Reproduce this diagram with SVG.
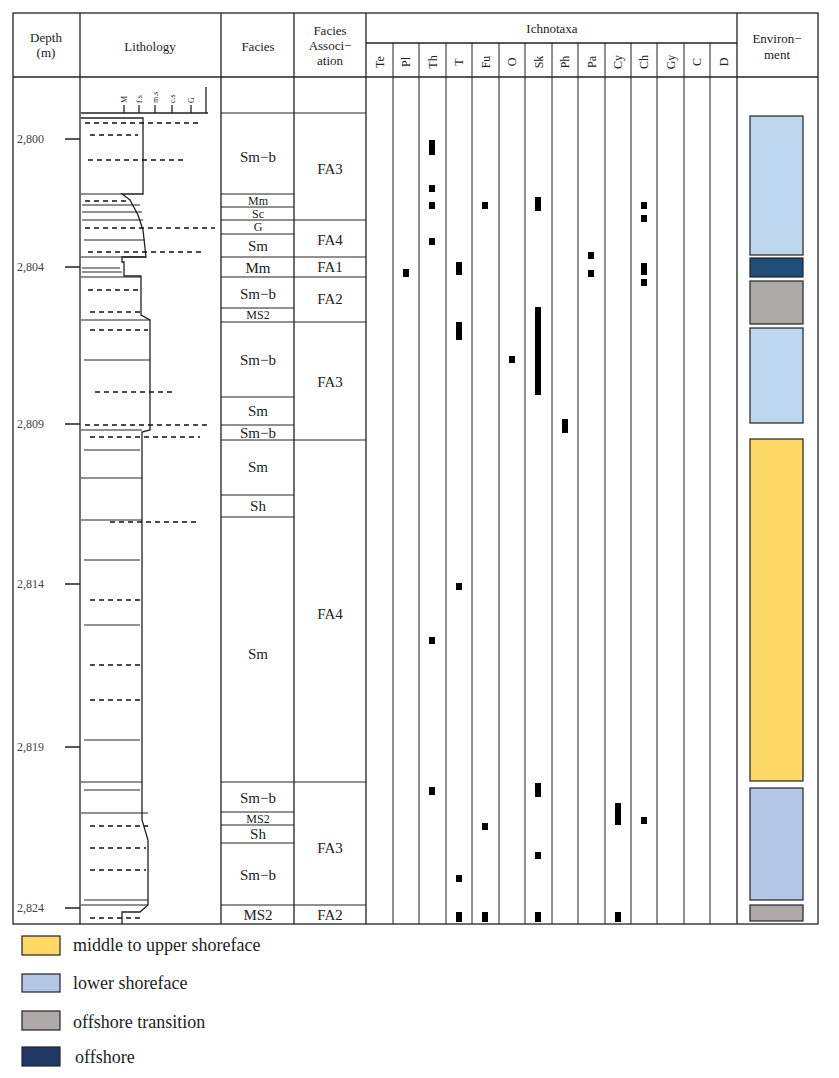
<svg xmlns="http://www.w3.org/2000/svg" width="839" height="1078" viewBox="0 0 839 1078">
<style>
text{font-family:"Liberation Serif","DejaVu Serif",serif;fill:#222}
.h{font-size:13px;text-anchor:middle}
.f{font-size:15px;text-anchor:middle;fill:#444}
.s{font-size:12px}
.d{font-size:12px;fill:#444}
.v{font-size:12px;text-anchor:middle}
.g{stroke:#222;stroke-width:1.3;fill:none}
.t{stroke:#222;stroke-width:1;fill:none}
.m{fill:#000}
.e{stroke:#222;stroke-width:1.2}
.l{font-size:18px}
.ds{stroke:#111;stroke-width:1.5;stroke-dasharray:5 4;fill:none}
</style>
<rect width="839" height="1078" fill="#fff"/>
<g id="table">
<rect x="13" y="13" width="805" height="911" class="g"/>
<line x1="13" y1="77" x2="818" y2="77" class="g"/>
<line x1="366" y1="43" x2="737" y2="43" class="g"/>
<path class="g" d="M80 13V924M221 13V924M294 13V924M366 13V924M737 13V924"/>
<path class="t" d="M393 43V924M419 43V924M446 43V924M472 43V924M499 43V924M525 43V924M552 43V924M578 43V924M605 43V924M631 43V924M657 43V924M684 43V924M710 43V924"/>
<text class="h" x="46" y="42">Depth</text><text class="h" x="46" y="57">(m)</text>
<text class="h" x="150" y="51">Lithology</text>
<text class="h" x="258" y="51">Facies</text>
<text class="h" x="330" y="35">Facies</text><text class="h" x="330" y="50">Associ−</text><text class="h" x="330" y="65">ation</text>
<text class="h" x="552" y="33">Ichnotaxa</text>
<text class="h" x="777" y="43">Environ−</text><text class="h" x="777" y="59">ment</text>
<g class="v">
<text transform="translate(384,62) rotate(-90)">Te</text>
<text transform="translate(410,62) rotate(-90)">Pl</text>
<text transform="translate(437,62) rotate(-90)">Th</text>
<text transform="translate(463,62) rotate(-90)">T</text>
<text transform="translate(490,62) rotate(-90)">Fu</text>
<text transform="translate(516,62) rotate(-90)">O</text>
<text transform="translate(543,62) rotate(-90)">Sk</text>
<text transform="translate(569,62) rotate(-90)">Ph</text>
<text transform="translate(596,62) rotate(-90)">Pa</text>
<text transform="translate(622,62) rotate(-90)">Cy</text>
<text transform="translate(648,62) rotate(-90)">Ch</text>
<text transform="translate(675,62) rotate(-90)">Gy</text>
<text transform="translate(701,62) rotate(-90)">C</text>
<text transform="translate(728,62) rotate(-90)">D</text>
</g>
</g>
<g id="depth">
<path class="g" d="M65 139H80M65 267H80M65 424H80M65 584H80M65 747H80M65 908H80"/>
<text class="d" x="17" y="143">2,800</text>
<text class="d" x="17" y="271">2,804</text>
<text class="d" x="17" y="428">2,809</text>
<text class="d" x="17" y="588">2,814</text>
<text class="d" x="17" y="751">2,819</text>
<text class="d" x="17" y="912">2,824</text>
</g>
<g id="lithology">
<path class="g" d="M81 113H208M206 87V113M124 113V105M139 113V105M155 113V105M172 113V105M191 113V105"/>
<g style="font-size:8px;font-family:'Liberation Sans',sans-serif">
<text transform="translate(127,103) rotate(-90)">M</text>
<text transform="translate(142,103) rotate(-90)">f.s</text>
<text transform="translate(158,103) rotate(-90)">m.s</text>
<text transform="translate(175,103) rotate(-90)">c.s</text>
<text transform="translate(194,103) rotate(-90)">G</text>
</g>
<path class="g" d="M81 118H143V194H122L130 200L138 215L143 230L146 257H122V262H124V276H141V315L150 320V430L142 432V820L148 840V905L140 912H122V924"/>
<path class="t" d="M81 194H122M81 257H146M81 277H141M81 320H150M81 430H142M81 478H142M81 520H142M81 782H142M81 813H148M81 905H148"/>
<path class="ds" d="M85 123H200M90 135H138M88 160H185M85 201H130M85 228H215M88 252H205M88 290H138M90 312H140M90 330H148M95 392H175M85 425H210M90 437H200M110 522H200M90 600H140M90 665H140M90 700H140M90 826H148M90 848H146M90 870H146M90 918H140"/>
<path class="t" d="M82 205H140M82 212H142M82 220H143M84 240H145M82 268H120M82 272H122M84 360H150M84 450H140M84 560H140M84 625H140M84 740H140M84 790H140M84 900H148"/>
</g>
<g id="facies" class="f">
<path class="t" d="M221 113H366M221 194H294M221 207H294M221 220H366M221 234H294M221 257H366M221 277H366M221 308H294M221 322H366M221 397H294M221 425H294M221 440H366M221 495H294M221 517H294M221 782H366M221 812H294M221 825H294M221 843H294M221 905H366"/>
<text x="258" y="162">Sm−b</text>
<text class="s" x="258" y="205">Mm</text>
<text class="s" x="258" y="218">Sc</text>
<text class="s" x="258" y="231">G</text>
<text x="258" y="251">Sm</text>
<text x="258" y="273">Mm</text>
<text x="258" y="299">Sm−b</text>
<text class="s" x="258" y="319">MS2</text>
<text x="258" y="365">Sm−b</text>
<text x="258" y="416">Sm</text>
<text x="258" y="438">Sm−b</text>
<text x="258" y="472">Sm</text>
<text x="258" y="511">Sh</text>
<text x="258" y="659">Sm</text>
<text x="258" y="803">Sm−b</text>
<text class="s" x="258" y="823">MS2</text>
<text x="258" y="839">Sh</text>
<text x="258" y="880">Sm−b</text>
<text x="258" y="920">MS2</text>
<text x="330" y="174">FA3</text>
<text x="330" y="245">FA4</text>
<text x="330" y="272">FA1</text>
<text x="330" y="304">FA2</text>
<text x="330" y="387">FA3</text>
<text x="330" y="619">FA4</text>
<text x="330" y="853">FA3</text>
<text x="330" y="920">FA2</text>
</g>
<g id="traces" class="m">
<rect x="429" y="140" width="6" height="15"/><rect x="429" y="185" width="6" height="7"/><rect x="429" y="202" width="6" height="7"/><rect x="429" y="238" width="6" height="7"/><rect x="429" y="637" width="6" height="7"/><rect x="429" y="787" width="6" height="8"/>
<rect x="482" y="202" width="6" height="7"/><rect x="482" y="823" width="6" height="7"/><rect x="482" y="912" width="6" height="10"/>
<rect x="535" y="197" width="6" height="14"/><rect x="535" y="307" width="6" height="88"/><rect x="535" y="783" width="6" height="14"/><rect x="535" y="852" width="6" height="7"/><rect x="535" y="912" width="6" height="10"/>
<rect x="403" y="269" width="6" height="8"/>
<rect x="456" y="262" width="6" height="13"/><rect x="456" y="322" width="6" height="18"/><rect x="456" y="583" width="6" height="7"/><rect x="456" y="875" width="6" height="7"/><rect x="456" y="912" width="6" height="10"/>
<rect x="509" y="356" width="6" height="7"/>
<rect x="562" y="419" width="6" height="14"/>
<rect x="588" y="252" width="6" height="7"/><rect x="588" y="270" width="6" height="7"/>
<rect x="615" y="803" width="6" height="22"/><rect x="615" y="912" width="6" height="10"/>
<rect x="641" y="202" width="6" height="7"/><rect x="641" y="215" width="6" height="7"/><rect x="641" y="263" width="6" height="12"/><rect x="641" y="279" width="6" height="7"/><rect x="641" y="817" width="6" height="7"/>
</g>
<g id="environment" class="e">
<rect x="750" y="116" width="53" height="139" fill="#bdd7ee"/>
<rect x="750" y="258" width="53" height="19" fill="#1f4e79"/>
<rect x="750" y="281" width="53" height="43" fill="#aeaaaa"/>
<rect x="750" y="328" width="53" height="95" fill="#bdd7ee"/>
<rect x="750" y="439" width="53" height="342" fill="#ffd966"/>
<rect x="750" y="788" width="53" height="112" fill="#b4c7e7"/>
<rect x="750" y="905" width="53" height="16" fill="#aeaaaa"/>
</g>
<g id="legend">
<rect x="22" y="936" width="38" height="19" fill="#ffd966" class="e"/>
<rect x="22" y="974" width="38" height="18" fill="#b4c7e7" class="e"/>
<rect x="22" y="1011" width="38" height="19" fill="#aeaaaa" class="e"/>
<rect x="22" y="1047" width="38" height="19" fill="#1f3864" class="e"/>
<text class="l" x="73" y="951">middle to upper shoreface</text>
<text class="l" x="73" y="989">lower shoreface</text>
<text class="l" x="73" y="1028">offshore transition</text>
<text class="l" x="75" y="1063">offshore</text>
</g>
</svg>
